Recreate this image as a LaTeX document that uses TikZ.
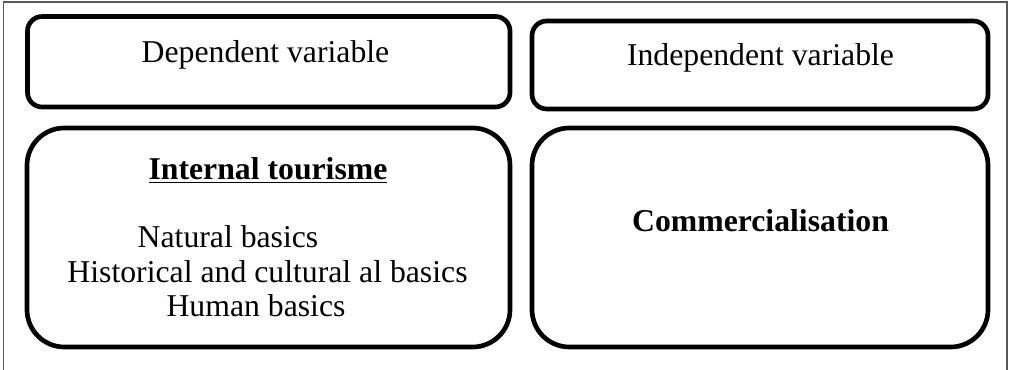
\documentclass[tikz,border=0pt]{standalone}
\usepackage{fontspec}
\setmainfont{Liberation Serif}
\usepackage{tikz}
\tikzset{
  varbox/.style={draw,line width=3.5pt,rectangle,inner sep=0pt},
  smallbox/.style={varbox,rounded corners=11pt,minimum height=67.9pt},
  bigbox/.style={varbox,rounded corners=28pt,minimum height=164.25pt},
  txt/.style={anchor=base,inner sep=0pt,font=\fontsize{23.8}{28}\selectfont}
}

\begin{document}
\begin{tikzpicture}[x=0.75pt,y=-0.75pt]
        \useasboundingbox (0,0) rectangle (1011,370);

        % frame, open at the bottom
        \draw[black!65,line width=0.8pt] (3.5,370) -- (3.5,2) -- (1007,2) -- (1007,370);

        \node[smallbox,minimum width=361.9pt] (dep) at (268.75,61.75) {};
        \node[smallbox,minimum width=342pt,minimum height=66pt] (indep) at (760,65) {};
        \node[bigbox,minimum width=362.25pt] (tour) at (268.5,237.5) {};
        \node[bigbox,minimum width=342pt] (comm) at (760,237.5) {};

        \node[txt] (deptxt) at (265.5,63) {Dependent variable};
        \node[txt] (indeptxt) at (760.5,66) {Independent variable};
        \node[txt] (tourtxt) at (268,180) {\textbf{\underline{Internal tourisme}}};
        \node[txt] (nat) at (228,248) {Natural basics};
        \node[txt] (hist) at (267.5,283) {Historical and cultural al basics};
        \node[txt] (hum) at (256,317) {Human basics};
        \node[txt] (commtxt) at (760.5,232) {\textbf{Commercialisation}};
\end{tikzpicture}
\end{document}
